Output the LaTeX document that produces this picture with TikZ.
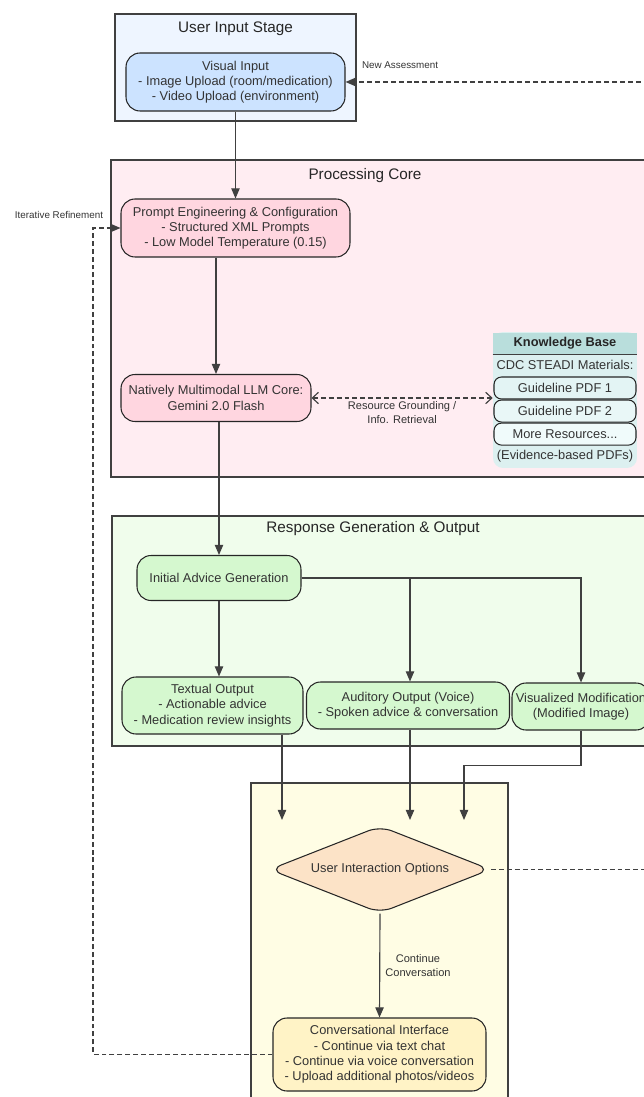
\documentclass[tikz,border=0pt]{standalone}
\usepackage{fontspec}
\setmainfont{Liberation Sans}
\usepackage{xcolor}
\usetikzlibrary{arrows.meta,positioning,calc,shapes.geometric}

\definecolor{userbg}{HTML}{EEF5FF}
\definecolor{userbox}{HTML}{CCE3FF}
\definecolor{corebg}{HTML}{FFEDF2}
\definecolor{corebox}{HTML}{FFD6E0}
\definecolor{kbbg}{HTML}{DCF0F0}
\definecolor{kbhd}{HTML}{B9DEDC}
\definecolor{kbone}{HTML}{E3F4F4}
\definecolor{kbtwo}{HTML}{E9F7F7}
\definecolor{kbthree}{HTML}{F0FBFB}
\definecolor{outbg}{HTML}{F0FDEC}
\definecolor{outbox}{HTML}{D5F8CF}
\definecolor{chatbg}{HTML}{FFFDE4}
\definecolor{choice}{HTML}{FCE3C7}
\definecolor{chatbox}{HTML}{FFF3C6}

\begin{document}
\begin{tikzpicture}[
    x=0.02cm, y=-0.02cm,
    stage/.style={draw=black!75, line width=0.6pt},
    stagetitle/.style={font=\fontsize{8.7}{10}\selectfont, text=black!85},
    box/.style={draw=black!85, rounded corners=0.28cm, line width=0.6pt, align=center, inner sep=1pt, font=\fontsize{7.3}{8.7}\selectfont, text=black!80},
    kbitem/.style={draw=black!85, rounded corners=0.15cm, line width=0.6pt, minimum width=2.84cm, minimum height=0.44cm, inner sep=0pt, font=\fontsize{7.3}{8.7}\selectfont, text=black!80},
    kbtext/.style={inner sep=0pt, font=\fontsize{7.3}{8.7}\selectfont, text=black!80},
    lbl/.style={align=center, inner sep=1pt, font=\fontsize{6.3}{7.6}\selectfont, text=black!80},
    smalllbl/.style={align=center, inner sep=1pt, font=\fontsize{5.6}{6.7}\selectfont, text=black!80},
    arr/.style={-{Triangle[length=5.8pt, width=4.8pt]}, line width=0.65pt, draw=black!75},
    dasharr/.style={arr, dash pattern=on 2.8pt off 1.7pt},
    kbarr/.style={{Straight Barb[length=3.5pt, width=6.5pt]}-{Straight Barb[length=3.5pt, width=6.5pt]}, line width=0.65pt, draw=black!75, dash pattern=on 2.8pt off 1.7pt}
]
  \clip (0,0) rectangle (644,1097);

  % stages
  \draw[stage, fill=userbg] (115,14) rectangle (356,121);
  \draw[stage, fill=corebg] (111,160) rectangle (700,477);
  \draw[stage, fill=outbg]  (112,516) rectangle (700,746);
  \draw[stage, fill=chatbg] (251,783) rectangle (508,1120);

  \node[stagetitle] (usertitle) at (235.5,29)  {User Input Stage};
  \node[stagetitle] (coretitle) at (365,176)   {Processing Core};
  \node[stagetitle] (outtitle)  at (373,529)   {Response Generation \& Output};

  % user input
  \node[box, fill=userbox, minimum width=4.38cm, minimum height=1.16cm] (visual) at (235.5,82)
    {Visual Input\\- Image Upload (room/medication)\\- Video Upload (environment)};

  % processing core
  \node[box, fill=corebox, minimum width=4.58cm, minimum height=1.16cm] (prompt) at (235.5,228)
    {Prompt Engineering \& Configuration\\- Structured XML Prompts\\- Low Model Temperature (0.15)};
  \node[box, fill=corebox, minimum width=3.8cm, minimum height=0.94cm] (llm) at (216,398)
    {Natively Multimodal LLM Core:\\Gemini 2.0 Flash};

  % knowledge base
  \node[fill=kbbg, rounded corners=0.2cm, minimum width=2.88cm, minimum height=2.72cm, inner sep=0pt] (kb) at (565,400) {};
  \node[fill=kbhd, minimum width=2.88cm, minimum height=0.43cm, inner sep=0pt, font=\bfseries\fontsize{7.3}{8.7}\selectfont, text=black!85] (kbhead) at (565,343.5) {Knowledge Base};
  \draw[line width=0.6pt, draw=black!75] (kbhead.south west) -- (kbhead.south east);
  \node[kbtext] (kbsrc) at (565,365) {CDC STEADI Materials:};
  \node[kbitem, fill=kbone] (pdfa) at (565,388) {Guideline PDF 1};
  \node[kbitem, fill=kbtwo, below=0pt of pdfa] (pdfb) {Guideline PDF 2};
  \node[kbitem, fill=kbthree, below=0pt of pdfb] (pdfc) {More Resources...};
  \node[kbtext] (kbnote) at (565,456) {(Evidence-based PDFs)};

  % response generation
  \node[box, fill=outbox, minimum width=3.28cm, minimum height=0.9cm] (advice) at (219,578) {Initial Advice Generation};
  \node[box, fill=outbox, minimum width=3.62cm, minimum height=1.14cm] (textual) at (212.5,705.5)
    {Textual Output\\- Actionable advice\\- Medication review insights};
  \node[box, fill=outbox, minimum width=4.06cm, minimum height=0.94cm] (auditory) at (408,705.5)
    {Auditory Output (Voice)\\- Spoken advice \& conversation};
  \node[box, fill=outbox, minimum width=2.76cm, minimum height=0.94cm] (vismod) at (581,706.5)
    {Visualized Modification\\(Modified Image)};

  % user interaction
  \node[diamond, aspect=2.5, draw=black!85, line width=0.6pt, fill=choice, rounded corners=0.25cm, minimum width=4.42cm, minimum height=1.74cm, inner sep=0pt, font=\fontsize{7.3}{8.7}\selectfont, text=black!80] (options) at (380,869.5) {User Interaction Options};
  \node[box, fill=chatbox, minimum width=4.26cm, minimum height=1.46cm] (chat) at (379.5,1054.5)
    {Conversational Interface\\- Continue via text chat\\- Continue via voice conversation\\- Upload additional photos/videos};

  % connectors
  \coordinate (inA) at (282,820);
  \coordinate (inB) at (410,820);
  \coordinate (inC) at (464,820);
  \coordinate (rail) at (690,500);
  \coordinate (loop) at (93,640);

  \draw[arr] (visual.south) -- (prompt.north);
  \draw[arr] (llm.north |- prompt.south) -- (llm.north);
  \draw[kbarr] (llm.east) -- (llm.east -| kb.west);
  \node[lbl, below=1pt of $(llm.east)!0.5!(llm.east -| kb.west)$] (kblabel) {Resource Grounding /\\Info. Retrieval};
  \draw[arr] (advice.north |- llm.south) -- (advice.north);

  \draw[arr] (advice.south) -- (advice.south |- textual.north);
  \draw[arr] (advice.east) -| (vismod.north);
  \draw[arr] (advice.east -| inB) -- (inB |- auditory.north);

  \draw[arr] (textual.south -| inA) -- (inA);
  \draw[arr] (auditory.south -| inB) -- (inB);
  \draw[arr] (vismod.south) -- ++(0,35) -| (inC);

  \draw[arr] (options.south) -- (chat.north);
  \node[lbl, right=2pt of $(options.south)!0.5!(chat.north)$] (contlabel) {Continue\\Conversation};

  \draw[dasharr, line width=0.8pt] (options.east) -| (rail) |- (visual.east);
  \node[smalllbl] (newlabel) at (400,65.5) {New Assessment};
  \draw[dasharr] (chat.west) -| (loop) |- (prompt.west);
  \node[smalllbl] (iterlabel) at (59,215) {Iterative Refinement};
\end{tikzpicture}
\end{document}
